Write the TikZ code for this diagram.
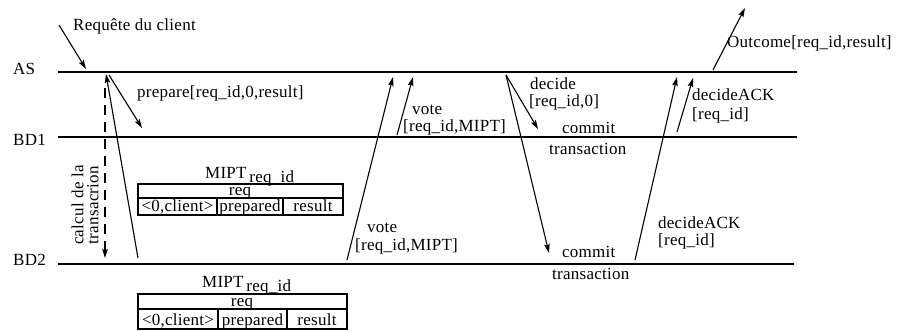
\documentclass[tikz,border=0pt]{standalone}
\usepackage{fontspec}
\setmainfont{Liberation Serif}[LetterSpace=1.5]
\usetikzlibrary{arrows.meta}

\begin{document}
\begin{tikzpicture}[x=1pt,y=-1pt,
  every node/.style={font=\fontsize{17}{15}\selectfont, inner sep=0pt},
  lbl/.style={anchor=base west},
  timeline/.style={line width=1.5pt},
  msg/.style={line width=1.1pt, -{Stealth[length=9pt,width=5.5pt,inset=1.5pt]}},
  wait/.style={msg, dash pattern=on 10pt off 7pt},
  cellbox/.style={line width=1.1pt},
]
\useasboundingbox (0,0) rectangle (897,330);

% ---- time lines of the three sites
\coordinate (as-l) at (58,72);   \coordinate (as-r) at (797,72);
\coordinate (bd1-l) at (58,137); \coordinate (bd1-r) at (797,137);
\coordinate (bd2-l) at (58,264); \coordinate (bd2-r) at (794,264);
\draw[timeline] (as-l) -- (as-r);
\draw[timeline] (bd1-l) -- (bd1-r);
\draw[timeline] (bd2-l) -- (bd2-r);
\node[lbl] (as)  at (13,74)  {AS};
\node[lbl] (bd1) at (13,145) {BD1};
\node[lbl] (bd2) at (13,265) {BD2};

% ---- message end points
\coordinate (cli-s) at (59,25);   \coordinate (cli-e) at (86,69);
\coordinate (prep-s) at (109,75); \coordinate (prep-e) at (142,128);
\coordinate (calc-s) at (105,88); \coordinate (calc-e) at (105,258);
\coordinate (back-s) at (138,258); \coordinate (back-e) at (106,74);
\coordinate (vote2-s) at (347,260); \coordinate (vote2-e) at (393,77);
\coordinate (vote1-s) at (397,135); \coordinate (vote1-e) at (413,77);
\coordinate (dec-s) at (506,75);
\coordinate (dec1-e) at (538,129); \coordinate (dec2-e) at (549,253);
\coordinate (ack2-s) at (635,260); \coordinate (ack2-e) at (677,77);
\coordinate (ack1-s) at (677,132); \coordinate (ack1-e) at (693,78);
\coordinate (out-s) at (713,70); \coordinate (out-e) at (745,8);

% ---- messages
\draw[msg] (cli-s) -- (cli-e);
\draw[msg] (prep-s) -- (prep-e);
\draw[wait] (calc-s) -- (calc-e);
\draw[msg] (back-s) -- (back-e);
\draw[msg] (vote2-s) -- (vote2-e);
\draw[msg] (vote1-s) -- (vote1-e);
\draw[msg] (dec-s) -- (dec1-e);
\draw[msg] (dec-s) -- (dec2-e);
\draw[msg] (ack2-s) -- (ack2-e);
\draw[msg] (ack1-s) -- (ack1-e);
\draw[msg] (out-s) -- (out-e);

% ---- message labels
\node[lbl] (t-cli) at (73,30) {Requête du client};
\node[lbl] (t-prep) at (137,97) {prepare[req\_id,0,result]};
\node[rotate=90, align=center] (t-calc) at (85,205) {calcul de la\\transacrion};
\node[lbl] (t-vote1a) at (412,114) {vote};
\node[lbl] (t-vote1b) at (403,131) {[req\_id,MIPT]};
\node[lbl] (t-vote2a) at (367,232) {vote};
\node[lbl] (t-vote2b) at (355,250) {[req\_id,MIPT]};
\node[lbl] (t-deca) at (530,89) {decide};
\node[lbl] (t-decb) at (529,106) {[req\_id,0]};
\node[lbl] (t-com1a) at (562,133) {commit};
\node[lbl] (t-com1b) at (549,154) {transaction};
\node[lbl] (t-com2a) at (562,257) {commit};
\node[lbl] (t-com2b) at (552,279) {transaction};
\node[lbl] (t-ack1a) at (692,100) {decideACK};
\node[lbl] (t-ack1b) at (692,119) {[req\_id]};
\node[lbl] (t-ack2a) at (658,228) {decideACK};
\node[lbl] (t-ack2b) at (658,245) {[req\_id]};
\node[lbl] (t-out) at (727,47) {Outcome[req\_id,result]};

% ---- MIPT table held by BD1
\node[lbl] (m1) at (205,178) {MIPT\raisebox{-4pt}{\,req\_id}};
\draw[cellbox] (138,184) rectangle (343,215);
\draw[cellbox] (138,198) -- (343,198);
\draw[cellbox] (217,198) -- (217,215);
\draw[cellbox] (283,198) -- (283,215);
\node[anchor=base] (m1-req) at (240,195) {req};
\node[anchor=base] (m1-c1) at (177.5,211) {<0,client>};
\node[anchor=base] (m1-c2) at (250,211) {prepared};
\node[anchor=base] (m1-c3) at (313,211) {result};

% ---- MIPT table held by BD2
\node[lbl] (m2) at (202,287) {MIPT\raisebox{-4pt}{\,req\_id}};
\draw[cellbox] (138,294) rectangle (347,329);
\draw[cellbox] (138,309) -- (347,309);
\draw[cellbox] (218,309) -- (218,329);
\draw[cellbox] (287,309) -- (287,329);
\node[anchor=base] (m2-req) at (242,306) {req};
\node[anchor=base] (m2-c1) at (178,325) {<0,client>};
\node[anchor=base] (m2-c2) at (252.5,325) {prepared};
\node[anchor=base] (m2-c3) at (317,325) {result};
\end{tikzpicture}
\end{document}
